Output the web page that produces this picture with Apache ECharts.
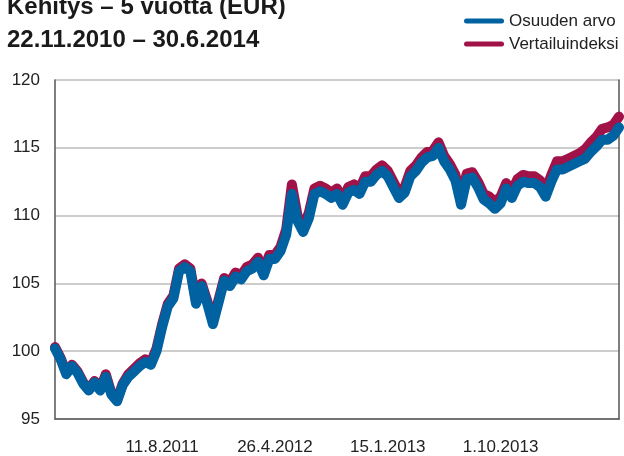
<!DOCTYPE html>
<html>
<head>
<meta charset="utf-8">
<script src="https://cdn.jsdelivr.net/npm/echarts@6/dist/echarts.min.js"></script>
<style>
  html, body { margin: 0; padding: 0; background: #ffffff; }
  #chart { width: 624px; height: 456px; }
</style>
</head>
<body>
<div id="chart"></div>
<script>
// Observation dates (category axis)
const dates = [
  '22.11.2010','6.12.2010','20.12.2010','3.1.2011','17.1.2011','31.1.2011','14.2.2011','28.2.2011','14.3.2011','28.3.2011',
  '11.4.2011','25.4.2011','9.5.2011','23.5.2011','6.6.2011','20.6.2011','4.7.2011','18.7.2011','29.7.2011','11.8.2011',
  '24.8.2011','6.9.2011','19.9.2011','3.10.2011','14.10.2011','27.10.2011','9.11.2011','22.11.2011','5.12.2011','16.12.2011',
  '29.12.2011','11.1.2012','24.1.2012','6.2.2012','17.2.2012','1.3.2012','14.3.2012','27.3.2012','12.4.2012','26.4.2012',
  '9.5.2012','22.5.2012','4.6.2012','15.6.2012','28.6.2012','11.7.2012','24.7.2012','6.8.2012','17.8.2012','30.8.2012',
  '12.9.2012','25.9.2012','8.10.2012','19.10.2012','1.11.2012','14.11.2012','28.11.2012','12.12.2012','28.12.2012','15.1.2013',
  '28.1.2013','8.2.2013','21.2.2013','6.3.2013','19.3.2013','2.4.2013','15.4.2013','26.4.2013','9.5.2013','22.5.2013',
  '4.6.2013','17.6.2013','28.6.2013','11.7.2013','24.7.2013','6.8.2013','19.8.2013','30.8.2013','18.9.2013','1.10.2013',
  '14.10.2013','25.10.2013','7.11.2013','20.11.2013','3.12.2013','16.12.2013','30.12.2013','13.1.2014','24.1.2014','6.2.2014',
  '19.2.2014','4.3.2014','17.3.2014','28.3.2014','10.4.2014','23.4.2014','6.5.2014','19.5.2014','30.5.2014','17.6.2014',
  '30.6.2014'
];

// Dates shown under the x axis
const tickLabels = ['11.8.2011', '26.4.2012', '15.1.2013', '1.10.2013'];

// Fund unit value, indexed to 100
const osuudenArvo = [
  100.2, 99.4, 98.3, 98.9, 98.4, 97.6, 97.1, 97.7, 97.1, 98.1,
  96.8, 96.3, 97.5, 98.1, 98.5, 98.9, 99.2, 99.0, 100.0, 101.8,
  103.3, 103.9, 105.9, 106.2, 105.9, 103.5, 104.8, 103.5, 102.0, 103.6,
  105.2, 104.8, 105.5, 105.3, 105.9, 106.1, 106.6, 105.6, 106.8, 106.8,
  107.4, 108.6, 111.6, 109.6, 108.8, 109.8, 111.6, 111.8, 111.6, 111.3,
  111.6, 110.8, 111.7, 111.9, 111.6, 112.5, 112.5, 113.0, 113.3, 112.9,
  112.1, 111.3, 111.7, 112.9, 113.3, 113.9, 114.3, 114.4, 115.0, 114.0,
  113.4, 112.6, 110.8, 112.7, 112.8, 112.1, 111.2, 110.9, 110.5, 110.9,
  112.0, 111.3, 112.2, 112.5, 112.4, 112.4, 112.1, 111.4, 112.5, 113.4,
  113.4, 113.6, 113.8, 114.0, 114.2, 114.7, 115.1, 115.6, 115.6, 115.9,
  116.5
];

// Benchmark index, indexed to 100
const vertailuindeksi = [
  100.3, 99.5, 98.4, 99.0, 98.5, 97.7, 97.2, 97.8, 97.2, 98.3,
  96.9, 96.4, 97.6, 98.3, 98.7, 99.1, 99.4, 99.2, 100.2, 102.0,
  103.5, 104.1, 106.1, 106.4, 106.1, 103.7, 105.0, 103.7, 102.2, 103.8,
  105.4, 105.1, 105.8, 105.6, 106.2, 106.4, 106.9, 105.9, 107.1, 107.1,
  107.7, 109.0, 112.3, 110.0, 109.2, 110.2, 112.0, 112.2, 112.0, 111.7,
  112.0, 111.2, 112.1, 112.3, 112.0, 112.9, 112.9, 113.4, 113.7, 113.3,
  112.5, 111.7, 112.1, 113.3, 113.7, 114.3, 114.7, 114.8, 115.4, 114.4,
  113.8, 113.0, 111.2, 113.1, 113.2, 112.5, 111.6, 111.4, 111.0, 111.4,
  112.4, 111.8, 112.7, 113.0, 112.9, 112.9, 112.6, 111.9, 113.0, 114.0,
  114.0, 114.2, 114.4, 114.6, 114.9, 115.4, 115.8, 116.4, 116.5, 116.7,
  117.3
];

const yMin = 95, yMax = 120, yStep = 5;

const BLUE = '#0062a0';
const CRIMSON = '#a01248';
const FONT = '"Liberation Sans", Arial, Helvetica, sans-serif';
const capsule = 'path://M2.5,0H37.5A2.5,2.5,0,0,1,37.5,5H2.5A2.5,2.5,0,0,1,2.5,0Z';

const chart = echarts.init(document.getElementById('chart'), null, { renderer: 'canvas' });

chart.setOption({
  animation: false,
  backgroundColor: '#ffffff',
  title: {
    text: 'Kehitys – 5 vuotta (EUR)\n22.11.2010 – 30.6.2014',
    left: 7,
    top: -9,
    padding: 0,
    textStyle: {
      fontFamily: FONT,
      fontWeight: 'bold',
      fontSize: 24,
      lineHeight: 33,
      color: '#1a1a1a'
    }
  },
  legend: {
    orient: 'vertical',
    left: 459,
    top: 6,
    itemWidth: 40,
    itemHeight: 5,
    itemGap: 3,
    data: [
      { name: 'Osuuden arvo', icon: capsule },
      { name: 'Vertailuindeksi', icon: capsule }
    ],
    textStyle: {
      fontFamily: FONT,
      fontSize: 17,
      lineHeight: 20,
      color: '#222222'
    }
  },
  grid: {
    left: 55,
    right: 5,
    top: 80,
    bottom: 35,
    containLabel: false
  },
  xAxis: {
    type: 'category',
    data: dates,
    boundaryGap: false,
    axisLine: { show: true, lineStyle: { color: '#555555', width: 1.5 } },
    axisTick: { show: false },
    splitLine: { show: false },
    axisLabel: {
      interval: 0,
      hideOverlap: false,
      formatter: (value) => (tickLabels.includes(value) ? value : ''),
      margin: 20,
      fontFamily: FONT,
      fontSize: 17,
      color: '#222222'
    }
  },
  yAxis: [
    {
      type: 'value',
      min: yMin,
      max: yMax,
      interval: yStep,
      axisLine: { show: true, lineStyle: { color: '#555555', width: 1.5 } },
      axisTick: { show: false },
      splitLine: { show: true, lineStyle: { color: '#bdbdbd', width: 1.5 } },
      axisLabel: {
        margin: 15,
        fontFamily: FONT,
        fontSize: 17,
        color: '#222222'
      }
    },
    {
      type: 'value',
      position: 'right',
      min: yMin,
      max: yMax,
      interval: yStep,
      axisLine: { show: true, lineStyle: { color: '#555555', width: 1.5 } },
      axisTick: { show: false },
      splitLine: { show: false },
      axisLabel: { show: false }
    }
  ],
  series: [
    {
      name: 'Vertailuindeksi',
      type: 'line',
      data: vertailuindeksi,
      symbol: 'none',
      z: 2,
      color: CRIMSON,
      lineStyle: { color: CRIMSON, width: 10, cap: 'round', join: 'round' }
    },
    {
      name: 'Osuuden arvo',
      type: 'line',
      data: osuudenArvo,
      symbol: 'none',
      z: 3,
      color: BLUE,
      lineStyle: { color: BLUE, width: 10, cap: 'round', join: 'round' }
    }
  ]
});
</script>
</body>
</html>
